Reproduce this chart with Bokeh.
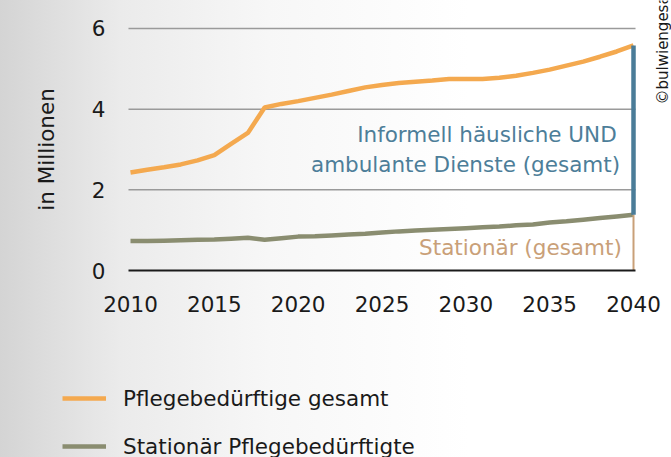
import math
from bokeh.plotting import figure
from bokeh.models import Legend, LegendItem, Range1d, FixedTicker, Label
from bokeh.core.properties import value
from bokeh.embed import file_html
from bokeh.resources import INLINE

years = list(range(2010, 2041))
gesamt = [2.43, 2.50, 2.56, 2.63, 2.73, 2.86, 3.14, 3.41, 4.04, 4.13,
          4.20, 4.28, 4.36, 4.45, 4.54, 4.60, 4.65, 4.68, 4.71, 4.75,
          4.75, 4.75, 4.78, 4.83, 4.90, 4.98, 5.08, 5.18, 5.30, 5.43, 5.58]
stationaer = [0.73, 0.73, 0.74, 0.75, 0.76, 0.77, 0.79, 0.81, 0.76, 0.80,
              0.84, 0.85, 0.87, 0.89, 0.91, 0.94, 0.97, 0.99, 1.01, 1.03,
              1.05, 1.07, 1.09, 1.12, 1.14, 1.19, 1.22, 1.26, 1.30, 1.34, 1.38]
y_ticks = [0, 2, 4, 6]
x_ticks = [2010, 2015, 2020, 2025, 2030, 2035, 2040]
label_informell = ["Informell häusliche UND", "ambulante Dienste (gesamt)"]
label_stationaer = "Stationär (gesamt)"
legend_labels = ["Pflegebedürftige gesamt", "Stationär Pflegebedürftigte"]
source_text = "©bulwiengesa"

FONT = "DejaVu Sans"
FS = "21.5px"
TXT = "#1a1a1a"
ORANGE = "#f4a94f"
OLIVE = "#8a8d70"
BLUE = "#4a7c98"
BLUE_TXT = "#4d7e99"
TAN = "#c9a078"

# plot area edges (data units) for the grid and baseline
X0, X1 = 2009.88, 2040.12

p = figure(width=671, height=457, output_backend="svg", toolbar_location=None,
           x_range=Range1d(2002.247, 2042.266), y_range=Range1d(-4.636, 6.694),
           min_border=0)
p.styles = {"background": "linear-gradient(to right, #d4d4d4 0%, #ebebeb 18%, #f7f7f7 40%, #ffffff 70%)"}
p.background_fill_alpha = 0
p.border_fill_alpha = 0
p.outline_line_color = None
p.xgrid.grid_line_color = None
p.ygrid.grid_line_color = None

# horizontal grid lines at the y ticks (except the baseline)
grid_y = y_ticks[1:]
p.segment(x0=[X0] * len(grid_y), y0=grid_y, x1=[X1] * len(grid_y), y1=grid_y,
          line_color="#9a9a9a", line_width=1.5)

xa = p.xaxis[0]
ya = p.yaxis[0]
xa.fixed_location = 0
xa.bounds = (X0, X1)
ya.fixed_location = X0
ya.bounds = (y_ticks[0], y_ticks[-1])
xa.ticker = FixedTicker(ticks=x_ticks)
ya.ticker = FixedTicker(ticks=y_ticks)
for ax in (xa, ya):
    ax.major_tick_line_color = None
    ax.minor_tick_line_color = None
    ax.major_label_text_font = FONT
    ax.major_label_text_font_size = FS
    ax.major_label_text_color = TXT
xa.axis_line_color = TXT
xa.axis_line_width = 2
xa.major_label_standoff = 19
ya.axis_line_color = None
ya.major_label_standoff = 17
ya.axis_label = "in Millionen"
ya.axis_label_text_font = FONT
ya.axis_label_text_font_size = FS
ya.axis_label_text_font_style = "normal"
ya.axis_label_text_color = TXT
ya.axis_label_standoff = 30

r1 = p.line(years, gesamt, line_color=ORANGE, line_width=4.5)
r2 = p.line(years, stationaer, line_color=OLIVE, line_width=4.5)

# vertical bars at the end year
p.segment(x0=[years[-1]], y0=[0], x1=[years[-1]], y1=[stationaer[-1]],
          line_color=TAN, line_width=2)
p.segment(x0=[years[-1]], y0=[stationaer[-1]], x1=[years[-1]], y1=[gesamt[-1]],
          line_color=BLUE, line_width=4.5)

p.text(x=[2039.0, 2039.2], y=[3.37, 2.63], text=label_informell,
       text_align="right", text_baseline="middle", text_color=BLUE_TXT,
       text_font=value(FONT), text_font_size=FS)
p.text(x=[2039.3], y=[0.57], text=[label_stationaer],
       text_align="right", text_baseline="middle", text_color=TAN,
       text_font=value(FONT), text_font_size=FS)

p.add_layout(Label(x=662, y=457 - 104, x_units="screen", y_units="screen",
                   text=source_text, angle=math.pi / 2, text_align="left",
                   text_baseline="middle", text_font=FONT, text_font_size="15px",
                   text_color=TXT))

legend = Legend(items=[LegendItem(label=legend_labels[0], renderers=[r1]),
                       LegendItem(label=legend_labels[1], renderers=[r2])],
                location=(62, -2), orientation="vertical",
                background_fill_alpha=0, border_line_color=None,
                padding=0, margin=0, spacing=22, glyph_width=44, glyph_height=26,
                label_standoff=17, label_text_font=FONT, label_text_font_size=FS,
                label_text_color=TXT)
p.add_layout(legend, "center")

open("out.html", "w").write(file_html(p, INLINE))
